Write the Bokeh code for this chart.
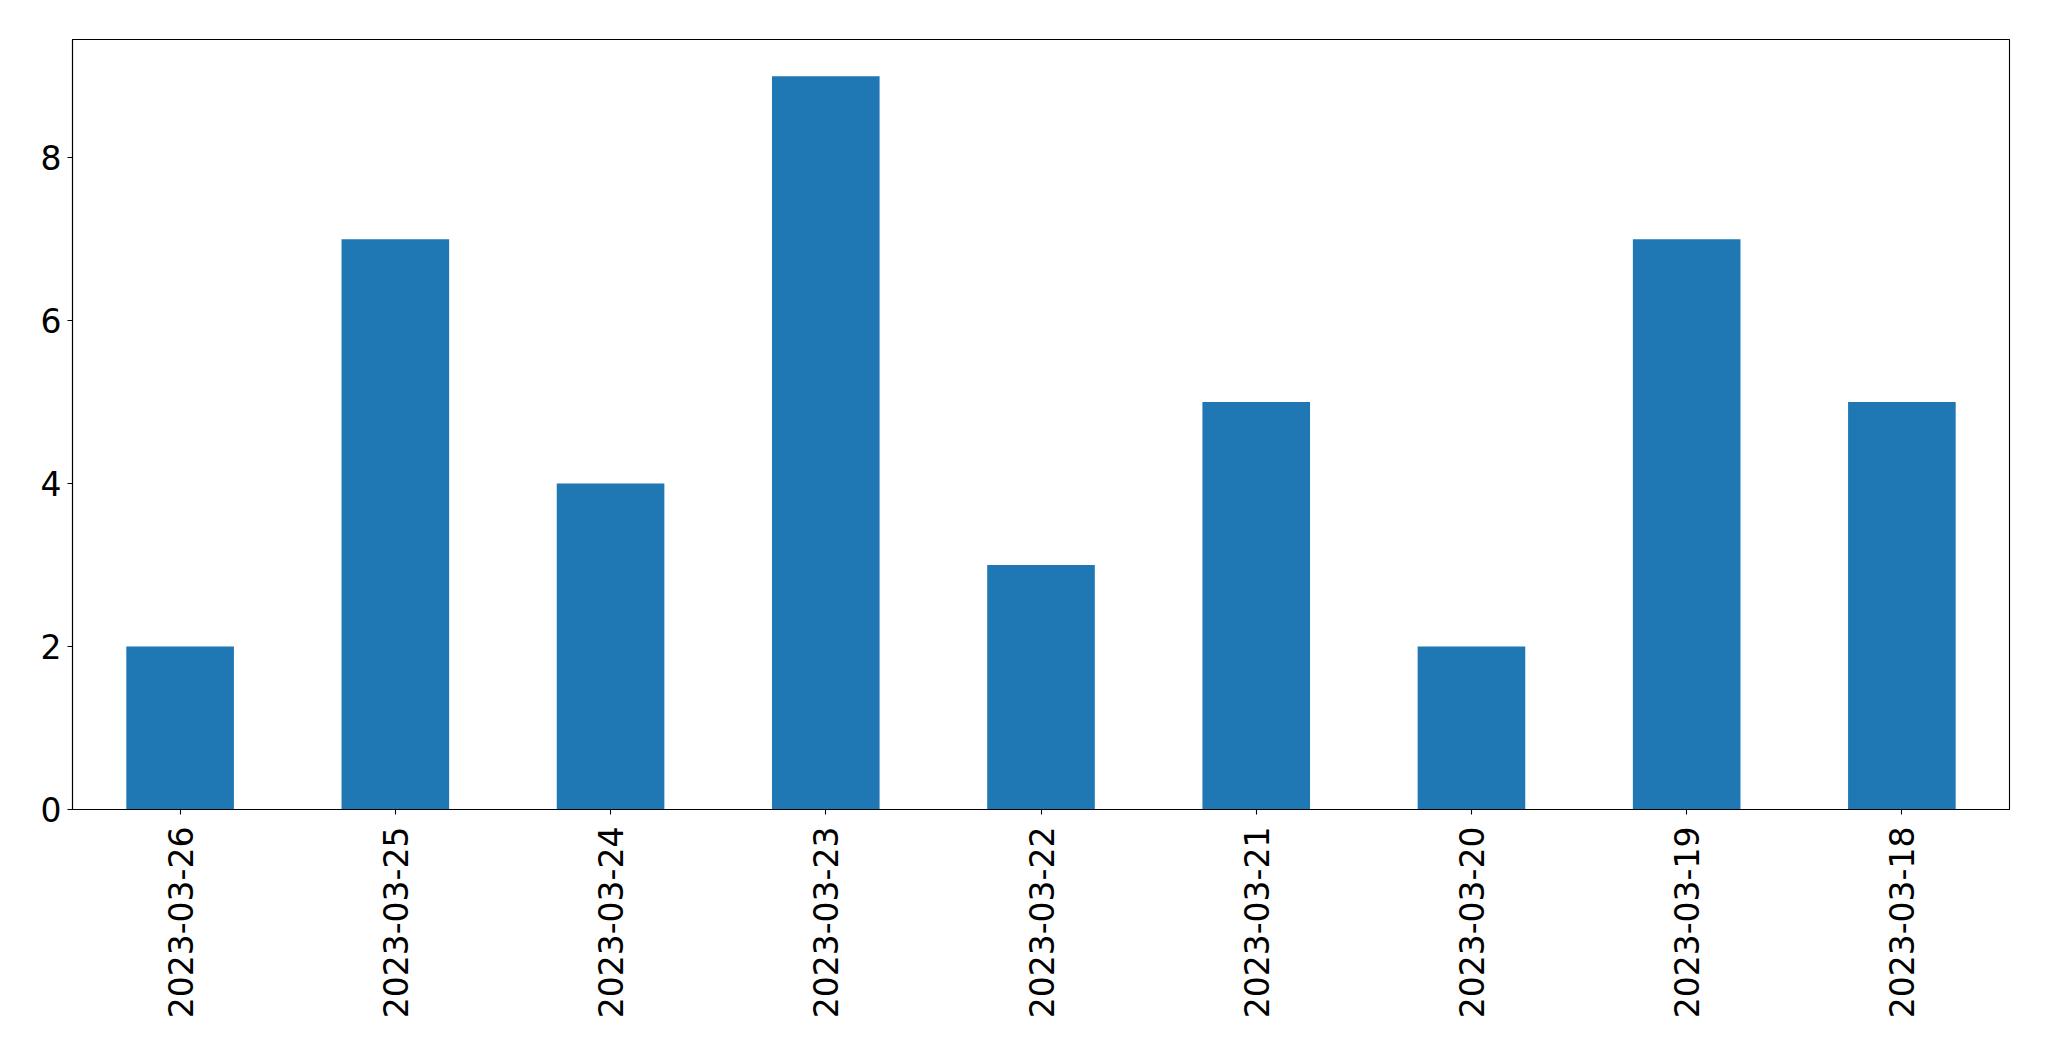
from bokeh.plotting import figure
from bokeh.models import FactorRange, Range1d, FixedTicker, ColumnDataSource
from bokeh.embed import file_html
from bokeh.resources import INLINE
import math

dates = ["2023-03-26", "2023-03-25", "2023-03-24", "2023-03-23", "2023-03-22",
         "2023-03-21", "2023-03-20", "2023-03-19", "2023-03-18"]
counts = [2, 7, 4, 9, 3, 5, 2, 7, 5]
y_ticks = [0, 2, 4, 6, 8]

src = ColumnDataSource(data=dict(x=dates, top=counts))

p = figure(width=2033, height=1045, output_backend="svg", toolbar_location=None,
           x_range=FactorRange(factors=dates, range_padding=0),
           y_range=Range1d(0, max(counts) * 1.05),
           min_border_left=72, min_border_top=39, min_border_right=24, min_border_bottom=236)

p.vbar(x="x", top="top", width=0.5, source=src, fill_color="#1f77b4", line_color=None)

p.outline_line_color = "black"
p.outline_line_width = 1.1
p.outline_line_alpha = 1
p.xgrid.visible = False
p.ygrid.visible = False

for ax in (p.xaxis[0], p.yaxis[0]):
    ax.axis_line_color = "black"
    ax.axis_line_width = 1.1
    ax.major_tick_line_color = "black"
    ax.major_tick_line_width = 1.1
    ax.major_tick_out = 5
    ax.major_tick_in = 0
    ax.minor_tick_line_color = None
    ax.major_label_text_font = "DejaVu Sans"
    ax.major_label_text_font_size = "33px"
    ax.major_label_text_color = "black"

p.yaxis[0].ticker = FixedTicker(ticks=y_ticks)
p.yaxis[0].major_label_standoff = 6
p.xaxis[0].major_label_orientation = math.pi / 2
p.xaxis[0].major_label_standoff = 12

open("out.html", "w").write(file_html(p, INLINE))
